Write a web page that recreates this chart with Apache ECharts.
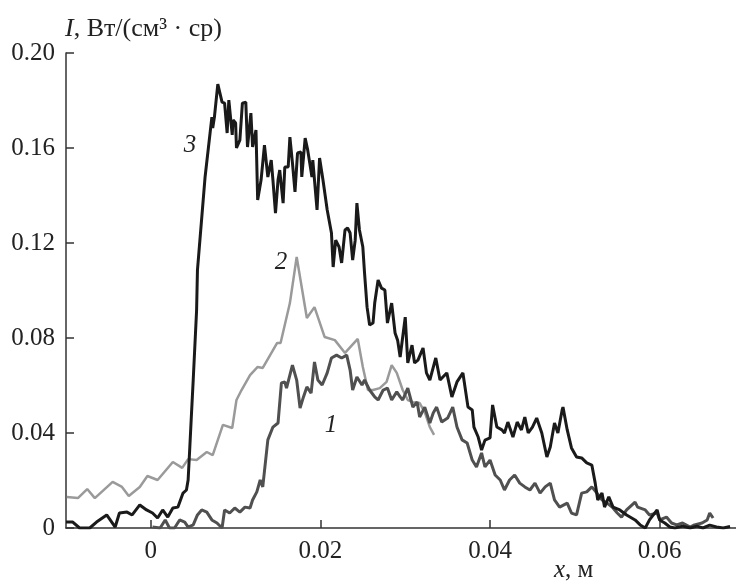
<!DOCTYPE html>
<html><head><meta charset="utf-8">
<script src="https://cdn.jsdelivr.net/npm/echarts@6/dist/echarts.min.js"></script>
<style>html,body{margin:0;padding:0;background:#fff}#c{width:736px;height:581px}</style>
</head><body><div id="c"></div>
<script>
// Tick values
const xTicks = [0, 0.02, 0.04, 0.06];
const yTicks = [0, 0.04, 0.08, 0.12, 0.16, 0.20];

// Curve 1 (dark gray)
const c1x = [0.0002,0.0011,0.0017,0.0022,0.0028,0.0034,0.0040,0.0044,0.0050,0.0055,
0.0060,0.0066,0.0072,0.0078,0.0084,0.0087,0.0093,0.0099,0.0105,0.0111,
0.0117,0.0120,0.0125,0.0129,0.0132,0.0138,0.0144,0.0150,0.0154,0.0158,
0.0160,0.0167,0.0172,0.0176,0.0180,0.0184,0.0189,0.0193,0.0197,0.0202,
0.0208,0.0213,0.0219,0.0225,0.0231,0.0235,0.0238,0.0243,0.0249,0.0252,
0.0258,0.0264,0.0268,0.0274,0.0279,0.0284,0.0290,0.0294,0.0297,0.0303,
0.0309,0.0314,0.0317,0.0323,0.0329,0.0333,0.0337,0.0343,0.0350,0.0356,
0.0361,0.0367,0.0373,0.0379,0.0384,0.0390,0.0394,0.0400,0.0406,0.0412,
0.0417,0.0423,0.0429,0.0435,0.0441,0.0447,0.0453,0.0459,0.0465,0.0471,
0.0476,0.0482,0.0491,0.0496,0.0502,0.0508,0.0514,0.0520,0.0526,0.0532,
0.0538,0.0544,0.0550,0.0555,0.0561,0.0571,0.0574,0.0583,0.0588,0.0597,
0.0600,0.0608,0.0614,0.0620,0.0627,0.0636,0.0641,0.0650,0.0656,0.0659,
0.0663];
const c1y = [0.0004,0,0.0034,0,0,0.0034,0.0025,0.0004,0.0013,0.0055,
0.0076,0.0067,0.0034,0.0021,0,0.0076,0.0063,0.0084,0.0067,0.0088,
0.0084,0.0118,0.0152,0.0202,0.0173,0.0371,0.0425,0.0442,0.0611,0.0615,
0.0589,0.0686,0.0623,0.0505,0.0552,0.0594,0.0568,0.0699,0.0623,0.0602,
0.0653,0.0716,0.0728,0.0716,0.0728,0.0665,0.0581,0.0636,0.0602,0.0623,
0.0581,0.0552,0.0539,0.0581,0.0589,0.0539,0.0573,0.0552,0.0539,0.0589,
0.0509,0.0531,0.0467,0.0509,0.0442,0.0484,0.0509,0.0446,0.0463,0.0509,
0.0425,0.0371,0.0358,0.0286,0.0257,0.0316,0.0257,0.0286,0.0223,0.0202,
0.0160,0.0202,0.0223,0.0189,0.0173,0.0160,0.0189,0.0147,0.0173,0.0189,
0.0118,0.0088,0.0105,0.0063,0.0055,0.0147,0.0152,0.0173,0.0147,0.0118,
0.0105,0.0088,0.0063,0.0046,0.0076,0.0109,0.0088,0.0076,0.0055,0.0063,
0.0034,0.0046,0.0021,0.0013,0.0021,0.0004,0.0013,0.0021,0.0034,0.0063,
0.0042];

// Curve 2 (light gray)
const c2x = [-0.0099,-0.0086,-0.0075,-0.0066,-0.0045,-0.0034,-0.0026,-0.0013,-0.0004,0.0008,
0.0026,0.0037,0.0044,0.0054,0.0066,0.0073,0.0085,0.0096,0.0101,0.0107,
0.0117,0.0126,0.0132,0.0149,0.0153,0.0164,0.0172,0.0184,0.0193,0.0205,
0.0217,0.0229,0.0244,0.0250,0.0256,0.0262,0.0270,0.0278,0.0284,0.0290,
0.0297,0.0303,0.0309,0.0317,0.0323,0.0329,0.0334];
const c2y = [0.0131,0.0126,0.0164,0.0126,0.0194,0.0173,0.0135,0.0173,0.0219,0.0202,
0.0278,0.0253,0.0290,0.0286,0.0320,0.0307,0.0434,0.0421,0.0539,0.0581,
0.0644,0.0678,0.0674,0.0779,0.0779,0.0947,0.1141,0.0884,0.0930,0.0804,
0.0791,0.0737,0.0796,0.0678,0.0581,0.0581,0.0589,0.0615,0.0686,0.0653,
0.0581,0.0539,0.0530,0.0526,0.0488,0.0425,0.0392];

// Curve 3 (black)
const c3x = [-0.0100,-0.0092,-0.0084,-0.0072,-0.0064,-0.0052,-0.0042,-0.0037,-0.0028,-0.0022,
-0.0013,-0.0005,0.0002,0.0008,0.0014,0.0020,0.0026,0.0032,0.0038,0.0042,
0.0044,0.0046,0.0048,0.0050,0.0054,0.0055,0.0064,0.0066,0.0072,0.0073,
0.0075,0.0079,0.0084,0.0087,0.0090,0.0092,0.0096,0.0097,0.0100,0.0101,
0.0105,0.0108,0.0112,0.0114,0.0118,0.0120,0.0124,0.0126,0.0130,0.0134,
0.0138,0.0142,0.0144,0.0147,0.0150,0.0152,0.0156,0.0158,0.0162,0.0164,
0.0167,0.0170,0.0173,0.0177,0.0178,0.0182,0.0185,0.0190,0.0191,0.0196,
0.0199,0.0203,0.0208,0.0213,0.0215,0.0218,0.0222,0.0225,0.0229,0.0232,
0.0235,0.0238,0.0241,0.0243,0.0246,0.0250,0.0252,0.0255,0.0258,0.0262,
0.0264,0.0268,0.0272,0.0276,0.0279,0.0284,0.0288,0.0291,0.0294,0.0300,
0.0303,0.0308,0.0311,0.0315,0.0321,0.0325,0.0329,0.0336,0.0341,0.0349,
0.0355,0.0361,0.0368,0.0374,0.0379,0.0381,0.0386,0.0390,0.0394,0.0400,
0.0403,0.0408,0.0414,0.0417,0.0421,0.0427,0.0432,0.0437,0.0441,0.0445,
0.0450,0.0455,0.0461,0.0467,0.0471,0.0476,0.0480,0.0485,0.0486,0.0491,
0.0496,0.0502,0.0508,0.0514,0.0520,0.0524,0.0527,0.0532,0.0535,0.0540,
0.0545,0.0553,0.0561,0.0571,0.0577,0.0583,0.0588,0.0597,0.0600,0.0606,
0.0612,0.0618,0.0627,0.0636,0.0644,0.0651,0.0659,0.0667,0.0675,0.0683];
const c3y = [0.0025,0.0025,0.0000,0.0000,0.0025,0.0055,0.0004,0.0063,0.0067,0.0055,
0.0097,0.0076,0.0063,0.0042,0.0076,0.0046,0.0084,0.0088,0.0147,0.0160,
0.0202,0.0341,0.0484,0.0623,0.0918,0.1086,0.1478,0.1482,0.1730,0.1684,
0.1730,0.1869,0.1793,0.1789,0.1663,0.1802,0.1655,0.1718,0.1705,0.1600,
0.1633,0.1789,0.1793,0.1604,0.1747,0.1604,0.1676,0.1381,0.1465,0.1612,
0.1478,0.1549,0.1465,0.1326,0.1465,0.1507,0.1368,0.1520,0.1520,0.1646,
0.1537,0.1415,0.1579,0.1583,0.1478,0.1642,0.1591,0.1478,0.1549,0.1339,
0.1558,0.1465,0.1339,0.1242,0.1099,0.1212,0.1183,0.1116,0.1255,0.1263,
0.1242,0.1128,0.1212,0.1368,0.1255,0.1183,0.1074,0.0930,0.0855,0.0863,
0.0947,0.1044,0.1010,0.1002,0.0863,0.0947,0.0821,0.0791,0.0720,0.0888,
0.0695,0.0770,0.0695,0.0707,0.0758,0.0653,0.0623,0.0716,0.0623,0.0653,
0.0552,0.0615,0.0653,0.0509,0.0497,0.0425,0.0383,0.0328,0.0370,0.0379,
0.0518,0.0425,0.0413,0.0400,0.0446,0.0383,0.0446,0.0413,0.0467,0.0400,
0.0425,0.0463,0.0400,0.0299,0.0341,0.0442,0.0400,0.0497,0.0509,0.0413,
0.0337,0.0299,0.0295,0.0274,0.0265,0.0189,0.0118,0.0147,0.0088,0.0131,
0.0088,0.0076,0.0055,0.0034,0.0013,0.0000,0.0034,0.0076,0.0034,0.0021,
0.0004,0.0000,0.0008,0.0000,0.0008,0.0000,0.0012,0.0004,0.0000,0.0006];

const zip = (a, b) => a.map((v, i) => [v, b[i]]);
const F = '"Liberation Serif","Times New Roman",serif';
const fmt = v => (Math.abs(v) < 1e-9 ? '0' : v.toFixed(2));

const chart = echarts.init(document.getElementById('c'), null, {renderer: 'canvas'});
const axisCol = '#333';
chart.setOption({
  animation: false,
  backgroundColor: '#fff',
  grid: {left: 66, right: 0, top: 53, bottom: 53, containLabel: false},
  xAxis: {
    type: 'value', min: -0.01, max: 0.069,
    axisLine: {show: true, onZero: false, lineStyle: {color: axisCol, width: 1.5}},
    axisTick: {show: true, inside: true, length: 8, customValues: xTicks, lineStyle: {color: axisCol, width: 1.5}},
    axisLabel: {customValues: xTicks, formatter: fmt, fontFamily: F, fontSize: 25, color: '#222', margin: 11},
    splitLine: {show: false}
  },
  yAxis: {
    type: 'value', min: 0, max: 0.2, interval: 0.04,
    axisLine: {show: true, onZero: false, lineStyle: {color: axisCol, width: 1.5}},
    axisTick: {show: true, inside: true, length: 8, lineStyle: {color: axisCol, width: 1.5}},
    axisLabel: {formatter: fmt, fontFamily: F, fontSize: 25, color: '#222', margin: 11},
    splitLine: {show: false}
  },
  series: [
    {type: 'line', name: '2', data: zip(c2x, c2y), showSymbol: false, symbol: 'none', z: 2,
     lineStyle: {color: '#9a9a9a', width: 2.5}},
    {type: 'line', name: '1', data: zip(c1x, c1y), showSymbol: false, symbol: 'none', z: 3,
     lineStyle: {color: '#505050', width: 3}},
    {type: 'line', name: '3', data: zip(c3x, c3y), showSymbol: false, symbol: 'none', z: 4,
     lineStyle: {color: '#1a1a1a', width: 3}}
  ],
  graphic: [
    {type: 'text', x: 65, y: 29, style: {
      text: '{i|I}{n|, Вт/(см³ · ср)}',
      verticalAlign: 'middle',
      rich: {
        i: {fontFamily: F, fontSize: 26, fontStyle: 'italic', fill: '#222'},
        n: {fontFamily: F, fontSize: 26, fill: '#222'}
      }
    }},
    {type: 'text', x: 554, y: 570, style: {
      text: '{i|x}{n|, м}', verticalAlign: 'middle',
      rich: {
        i: {fontFamily: F, fontSize: 25, fontStyle: 'italic', fill: '#222'},
        n: {fontFamily: F, fontSize: 25, fill: '#222'}
      }
    }},
    {type: 'text', x: 190, y: 145, style: {text: '3', fontFamily: F, fontSize: 25, fontStyle: 'italic', fill: '#222', align: 'center', verticalAlign: 'middle'}},
    {type: 'text', x: 281, y: 262, style: {text: '2', fontFamily: F, fontSize: 25, fontStyle: 'italic', fill: '#222', align: 'center', verticalAlign: 'middle'}},
    {type: 'text', x: 331, y: 425, style: {text: '1', fontFamily: F, fontSize: 25, fontStyle: 'italic', fill: '#222', align: 'center', verticalAlign: 'middle'}}
  ]
});
</script></body></html>
